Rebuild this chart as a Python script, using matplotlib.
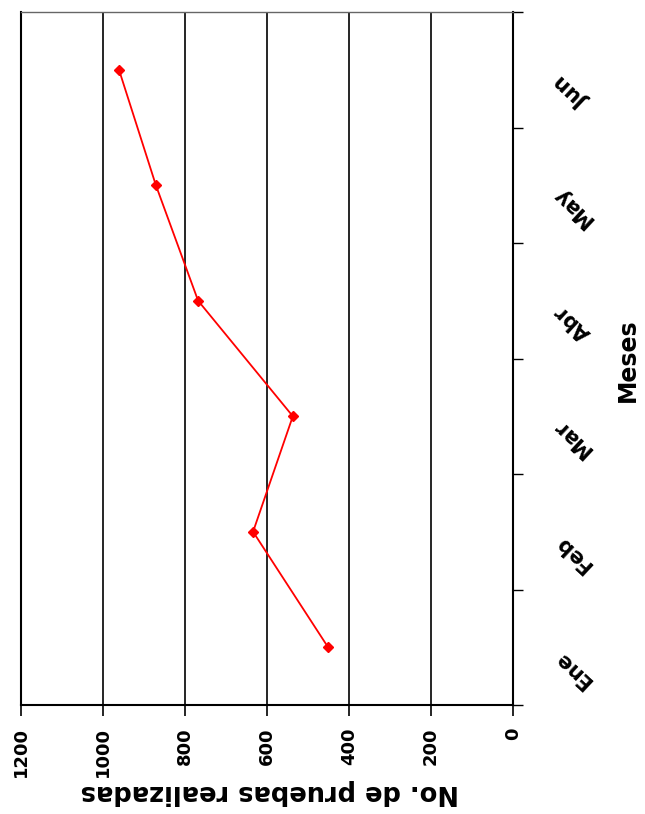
import matplotlib
matplotlib.use("Agg")
import matplotlib.pyplot as plt
import matplotlib.transforms as mtransforms

# datos
meses = ["Ene", "Feb", "Mar", "Abr", "May", "Jun"]
pruebas = [451, 634, 537, 768, 871, 961]
ticks_valor = [0, 200, 400, 600, 800, 1000, 1200]

plt.rcParams['font.family'] = ['DejaVu Sans']

fig = plt.figure(figsize=(6.45, 8.14), dpi=100)
ax = fig.add_axes([21/645, 1 - 705/814, (513 - 21)/645, (705 - 12)/814])

pos = list(range(len(meses)))
ax.plot(pruebas, pos, color='red', lw=1.3, marker='D', ms=5.5,
        mec='red', mfc='red', zorder=3)

# eje de valores (abajo, invertido)
ax.set_xlim(1200, 0)
ax.set_xticks(ticks_valor)
ax.set_xticklabels([str(t) for t in ticks_valor], rotation=90,
                   fontsize=13, fontweight='bold')
ax.tick_params(axis='x', direction='out', length=8, width=1.2, pad=8)
ax.grid(axis='x', color='black', lw=1.2)

# eje de categorias (derecha)
ax.set_ylim(-0.5, len(meses) - 0.5)
ax.yaxis.tick_right()
ax.set_yticks(pos)
ax.set_yticklabels([])
ax.set_yticks([p - 0.5 for p in pos] + [len(meses) - 0.5], minor=True)
ax.tick_params(axis='y', which='major', length=0)
ax.tick_params(axis='y', which='minor', direction='out', length=7, width=1)

trans = mtransforms.blended_transform_factory(ax.transAxes, ax.transData)
for p, m in zip(pos, meses):
    ax.text(1.122, p - 0.19, m, transform=trans, rotation=137,
            ha='center', va='center', fontsize=15, fontweight='bold')

ax.spines['left'].set_color('black')
ax.spines['left'].set_linewidth(1.5)
ax.spines['right'].set_linewidth(1.5)
ax.spines['bottom'].set_linewidth(1.5)
ax.spines['top'].set_color('#666666')
ax.spines['top'].set_linewidth(1)

fig.text(270/645, 1 - 792/814, "No. de pruebas realizadas", rotation=180,
         ha='center', va='center', fontsize=18.5, fontweight='bold')
fig.text(628/645, 1 - 360/814, "Meses", rotation=90,
         ha='center', va='center', fontsize=17, fontweight='bold')

fig.savefig("out.png", dpi=100)
